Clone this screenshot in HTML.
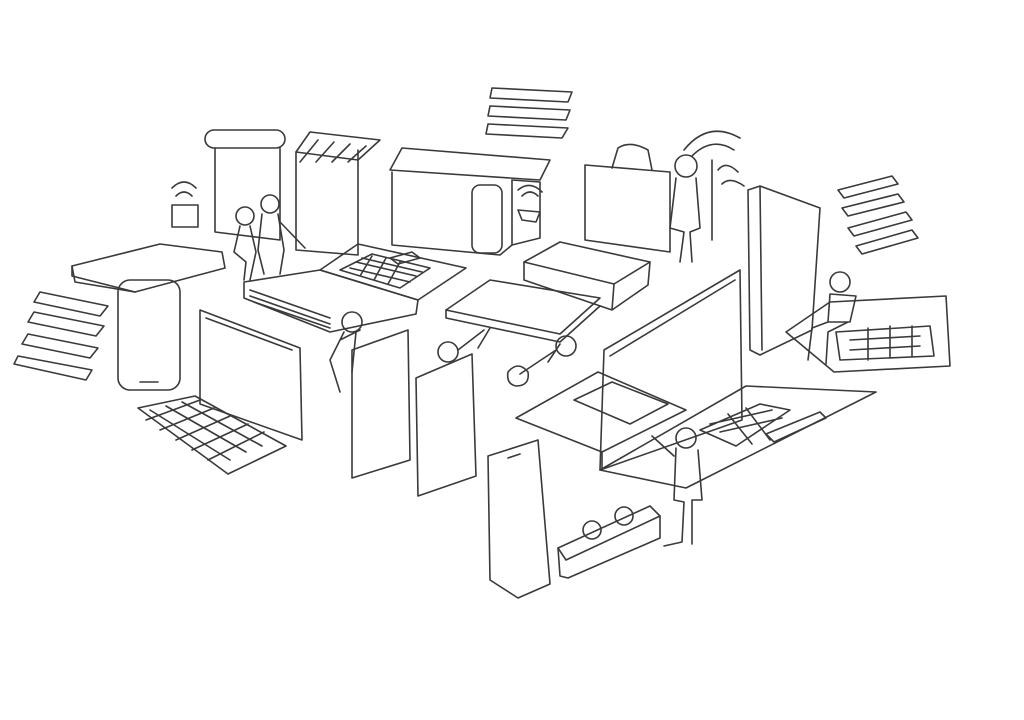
<!DOCTYPE html>
<html><head><meta charset="utf-8"><style>
html,body{margin:0;padding:0;background:#fff;}
svg{display:block}
</style></head><body>
<svg width="1024" height="720" viewBox="0 0 1024 720" xmlns="http://www.w3.org/2000/svg">
<g fill="none" stroke="#3a3a3a" stroke-width="1.6" stroke-linejoin="round" stroke-linecap="round">
<!-- top center stack -->
<path d="M492 88 L572 92 L568 102 L490 98 Z"/>
<path d="M490 106 L570 110 L566 120 L488 116 Z"/>
<path d="M488 124 L568 128 L562 138 L486 134 Z"/>
<!-- right stack -->
<path d="M838 190 L892 176 L898 184 L844 198 Z"/>
<path d="M842 208 L898 194 L904 202 L848 216 Z"/>
<path d="M848 228 L906 212 L912 220 L854 236 Z"/>
<path d="M856 246 L912 230 L918 238 L862 254 Z"/>
<!-- left stack -->
<path d="M40 292 L108 306 L100 316 L34 302 Z"/>
<path d="M34 312 L104 326 L96 336 L28 322 Z"/>
<path d="M28 334 L98 348 L90 358 L22 344 Z"/>
<path d="M18 356 L92 370 L86 380 L14 364 Z"/>
<!-- scroll banner -->
<rect x="205" y="130" width="80" height="18" rx="9"/>
<path d="M215 148 L215 232 L280 240 L280 148"/>
<!-- shop awning -->
<path d="M296 152 L296 250 L358 255 L358 150"/>
<path d="M296 152 L310 132 L380 140 L358 160 Z"/>
<path d="M300 162 L318 140 M316 162 L334 142 M332 162 L350 144 M348 162 L366 146"/>
<!-- people near banner -->
<circle cx="245" cy="216" r="9"/><path d="M240 226 L234 252 L246 262 L244 280 M250 226 L256 252 L250 280"/>
<circle cx="270" cy="204" r="9"/><path d="M262 214 L258 250 L264 274 M278 214 L284 250 L280 274 M280 222 L305 248"/>
<!-- wifi box -->
<rect x="172" y="205" width="26" height="22"/>
<path d="M176 196 Q184 188 192 196 M172 188 Q184 176 196 188"/>
<!-- printer box -->
<path d="M402 148 L550 160 L540 180 L390 170 Z"/>
<path d="M392 172 L392 245 L500 255 L512 245 L512 180"/>
<path d="M512 180 L540 182 L540 238 L512 245"/>
<rect x="472" y="185" width="30" height="68" rx="8"/>
<path d="M518 210 L540 212 L536 222 L522 220 Z M522 196 Q530 188 538 196 M518 190 Q530 180 542 192"/>
<!-- shopping bag -->
<path d="M585 165 L585 240 L670 252 L670 172 Z"/>
<path d="M612 168 L618 148 Q630 140 648 150 L652 170"/>
<!-- person with wifi -->
<circle cx="686" cy="166" r="11"/>
<path d="M676 178 L670 228 L684 232 L680 262 M696 178 L700 228 L690 232 L692 262"/>
<path d="M712 160 L712 240"/>
<path d="M684 150 Q708 120 740 138 M692 156 Q712 136 734 150 M718 170 Q726 160 738 172 M722 184 Q730 176 744 186"/>
<!-- tall phone right -->
<path d="M748 190 L760 186 L820 208 L812 330 L760 355 L750 350 Z"/>
<path d="M760 186 L762 350"/>
<!-- bench with person -->
<path d="M786 332 L830 302 L946 296 L950 366 L834 372 Z"/>
<path d="M836 332 L930 326 L934 356 L840 360 Z M850 340 L920 336 M850 350 L920 346 M868 328 L868 360 M890 326 L890 358 M912 326 L912 356"/>
<circle cx="840" cy="282" r="10"/><path d="M830 294 L828 322 L850 322 L856 296 Z M828 322 L812 328 L808 360 M848 322 L828 332 L826 364"/>
<!-- left flat tablet -->
<path d="M72 266 L160 244 L222 252 L225 268 L135 292 L75 282 Z"/>
<path d="M72 266 L72 276 L135 292"/>
<!-- left phone -->
<rect x="118" y="280" width="62" height="110" rx="12"/>
<path d="M140 382 L158 382"/>
<!-- left laptop -->
<path d="M200 310 L300 348 L302 440 L200 404 Z"/>
<path d="M206 318 L292 350"/>
<path d="M138 408 L195 396 L286 446 L228 474 Z"/>
<path d="M150 410 L230 460 M166 406 L246 452 M182 402 L262 446 M146 420 L200 400 M160 430 L214 408 M176 440 L230 416 M192 450 L248 424 M208 460 L264 432"/>
<!-- center laptop -->
<path d="M320 270 L358 244 L466 268 L418 300 Z"/>
<path d="M340 270 L372 254 L430 268 L400 288 Z M350 268 L410 282 M356 262 L416 276 M362 258 L422 272 M372 256 L360 276 M386 258 L374 280 M400 262 L388 284"/>
<path d="M390 258 L412 252 L420 258 L398 264 Z"/>
<path d="M244 282 L320 270 L418 300 L416 314 L330 332 L244 298 Z"/>
<path d="M250 290 L330 318 M250 296 L330 324 M254 302 L330 328"/>
<circle cx="352" cy="322" r="10"/><path d="M344 332 L330 360 L340 392 M356 332 L352 372 M340 340 L360 330"/>
<!-- box -->
<path d="M524 262 L560 242 L650 262 L614 284 Z"/>
<path d="M524 262 L524 280 L612 310 L648 285 L650 262 M614 284 L612 310"/>
<!-- skateboard table -->
<path d="M446 310 L490 280 L600 298 L560 334 Z"/>
<path d="M446 310 L446 318 L560 342 L600 306"/>
<path d="M490 328 L478 348 M560 344 L548 362"/>
<circle cx="448" cy="352" r="10"/><circle cx="566" cy="346" r="10"/><path d="M458 350 L484 330 M520 374 L556 350"/>
<path d="M508 372 Q518 360 528 372 Q530 386 516 386 Q506 384 508 372 Z"/>
<!-- three phones -->
<path d="M352 350 L408 330 L410 460 L352 478 Z"/>
<path d="M416 378 L472 354 L476 476 L418 496 Z"/>
<path d="M488 456 L538 440 L550 584 L518 598 L490 580 Z"/>
<path d="M508 458 L520 454"/>
<!-- big laptop right -->
<path d="M604 350 L740 270 L742 420 L600 470 Z"/>
<path d="M610 356 L735 280"/>
<path d="M600 470 L686 488 L876 392 L746 386 Z"/>
<path d="M700 430 L760 404 L790 410 L736 446 Z M710 424 L772 410 M720 432 L782 418 M728 414 L752 444 M746 408 L770 440"/>
<path d="M766 434 L820 412 L826 418 L774 442 Z"/>
<!-- tablet front -->
<path d="M516 418 L598 372 L686 410 L602 452 Z"/>
<path d="M574 400 L612 382 L668 404 L630 424 Z"/>
<path d="M602 452 L602 470"/>
<!-- person front -->
<circle cx="686" cy="438" r="10"/>
<path d="M676 448 L674 500 L684 502 L682 542 L664 546 M698 450 L702 500 L692 500 L692 544 M674 456 L652 436"/>
<!-- tray -->
<path d="M558 548 L650 506 L660 516 L566 560 Z"/>
<path d="M558 548 L560 576 L568 578 L660 538 L660 516"/>
<circle cx="592" cy="530" r="9"/><circle cx="624" cy="516" r="9"/>
</g>
</svg>
</body></html>
